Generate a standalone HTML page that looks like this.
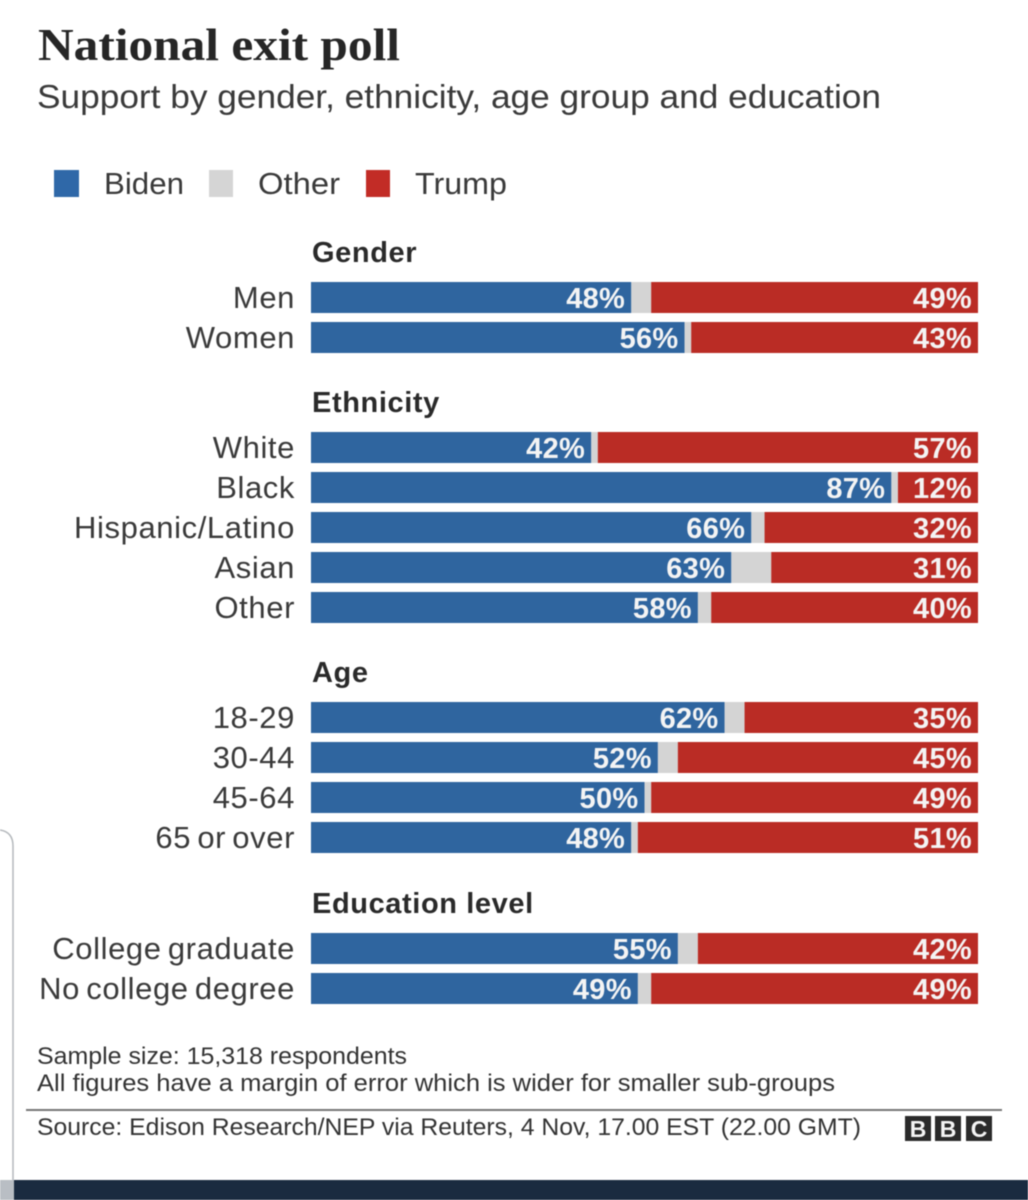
<!DOCTYPE html>
<html lang="en">
<head>
<meta charset="utf-8">
<title>National exit poll</title>
<style>
  html, body { margin: 0; padding: 0; background: #fff; }
  body { width: 1028px; height: 1200px; overflow: hidden; }
  svg { display: block; font-family: "Liberation Sans", sans-serif; filter: blur(0.4px); }
  .lab { font-size: 31px; fill: #3a3a3a; letter-spacing: 0.6px; word-spacing: -3px; text-anchor: end; }
  .head { font-size: 29px; font-weight: 700; fill: #2a2a2a; letter-spacing: 0.6px; }
  .val { font-size: 29px; font-weight: 700; fill: #f4f4f4; letter-spacing: 0.3px; text-anchor: end; }
  .leg { font-size: 31px; fill: #3a3a3a; }
  .note { font-size: 24px; fill: #333; }
</style>
</head>
<body>
<svg id="chart" xmlns="http://www.w3.org/2000/svg" width="1028" height="1200" viewBox="0 0 1028 1200">
  <rect width="1028" height="1200" fill="#ffffff"/>
  <text x="38" y="60" font-family="'Liberation Serif', serif" font-weight="700" font-size="46" fill="#262626" textLength="362" lengthAdjust="spacingAndGlyphs">National exit poll</text>
  <text x="37" y="108" font-size="33" fill="#3a3a3a" textLength="844" lengthAdjust="spacingAndGlyphs">Support by gender, ethnicity, age group and education</text>

  <g>
    <rect x="54" y="170" width="25" height="27" fill="#2f68a8"/>
    <text class="leg" x="104" y="194" textLength="80" lengthAdjust="spacingAndGlyphs">Biden</text>
    <rect x="209" y="170" width="24" height="27" fill="#d5d5d5"/>
    <text class="leg" x="258" y="194" textLength="82" lengthAdjust="spacingAndGlyphs">Other</text>
    <rect x="366" y="170" width="24" height="27" fill="#c22c26"/>
    <text class="leg" x="415" y="194" textLength="92" lengthAdjust="spacingAndGlyphs">Trump</text>
  </g>

  <g id="plot"></g>

  <text class="note" x="37" y="1064" textLength="370" lengthAdjust="spacingAndGlyphs">Sample size: 15,318 respondents</text>
  <text class="note" x="37" y="1091" textLength="798" lengthAdjust="spacingAndGlyphs">All figures have a margin of error which is wider for smaller sub-groups</text>
  <rect x="26" y="1109" width="976" height="2" fill="#777777"/>
  <text class="note" x="37" y="1135" textLength="824" lengthAdjust="spacingAndGlyphs">Source: Edison Research/NEP via Reuters,  4 Nov, 17.00 EST (22.00 GMT)</text>

  <g font-weight="700" font-size="23" fill="#f4f4f4" text-anchor="middle">
    <rect x="905" y="1116" width="26" height="25" fill="#2a2a2a"/>
    <text x="918" y="1137">B</text>
    <rect x="935" y="1116" width="26" height="25" fill="#2a2a2a"/>
    <text x="948" y="1137">B</text>
    <rect x="966" y="1116" width="26" height="25" fill="#2a2a2a"/>
    <text x="979" y="1137">C</text>
  </g>

  <path d="M0 830 Q13 832 13 846 L13 1180" fill="none" stroke="#b4b8bc" stroke-width="1.5"/>
  <rect x="0" y="1180" width="14" height="20" fill="#b9bec4"/>
  <rect x="14" y="1180" width="1014" height="20" fill="#1a2b40"/>
</svg>

<script>
const groupNames = ["Gender", "Ethnicity", "Age", "Education level"];
const groupSizes = [2, 5, 4, 2];
const categories = ["Men", "Women", "White", "Black", "Hispanic/Latino", "Asian", "Other", "18-29", "30-44", "45-64", "65 or over", "College graduate", "No college degree"];
const bidenValues = [48, 56, 42, 87, 66, 63, 58, 62, 52, 50, 48, 55, 49];
const trumpValues = [49, 43, 57, 12, 32, 31, 40, 35, 45, 49, 51, 42, 49];

const NS = "http://www.w3.org/2000/svg";
const plot = document.getElementById("plot");
const plotLeft = 311, plotRight = 978;
const barHeight = 31, rowPitch = 40, groupGap = 70.2, firstRowTop = 282;

function xScale(pct) { return plotLeft + (plotRight - plotLeft) * pct / 100; }
function slug(s) { return s.toLowerCase().replace(/[^a-z0-9]+/g, "-"); }

function makeRect(x, y, w, fill) {
  const r = document.createElementNS(NS, "rect");
  r.setAttribute("x", x);
  r.setAttribute("y", y);
  r.setAttribute("width", Math.max(0, w));
  r.setAttribute("height", barHeight);
  r.setAttribute("fill", fill);
  return r;
}
function makeText(x, y, cls, str) {
  const t = document.createElementNS(NS, "text");
  t.setAttribute("x", x);
  t.setAttribute("y", y);
  t.setAttribute("class", cls);
  t.textContent = str;
  return t;
}

let rowPos = firstRowTop;
let index = 0;
groupNames.forEach(function (groupName, g) {
  const header = makeText(312, Math.round(rowPos) - 20, "head", groupName);
  
  
  plot.appendChild(header);

  for (let i = 0; i < groupSizes[g]; i++, index++) {
    const rowTop = Math.round(rowPos);
    const key = slug(categories[index]) + '-' + g;
    const biden = bidenValues[index];
    const trump = trumpValues[index];
    const bidenEnd = xScale(biden);
    const trumpStart = xScale(100 - trump);

    const label = makeText(295, rowTop + 26, "lab", categories[index]);
    
    
    plot.appendChild(label);

    const otherBar = makeRect(bidenEnd, rowTop, trumpStart - bidenEnd, "#d4d4d4");
    
    
    plot.appendChild(otherBar);

    const bidenBar = makeRect(plotLeft, rowTop, bidenEnd - plotLeft, "#2f659f");
    
    
    plot.appendChild(bidenBar);

    const trumpBar = makeRect(trumpStart, rowTop, plotRight - trumpStart, "#ba2c25");
    
    
    plot.appendChild(trumpBar);

    const bidenValue = makeText(bidenEnd - 6, rowTop + 26, "val", biden + "%");
    
    
    plot.appendChild(bidenValue);

    const trumpValue = makeText(plotRight - 6, rowTop + 26, "val", trump + "%");
    
    
    plot.appendChild(trumpValue);

    rowPos += rowPitch;
  }
  rowPos += groupGap;
});
</script>
</body>
</html>
